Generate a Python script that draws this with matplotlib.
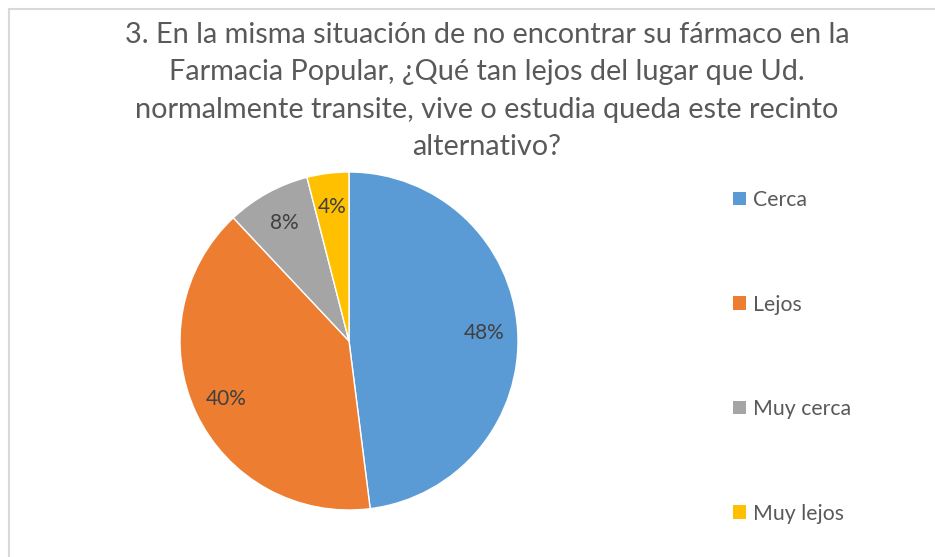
import matplotlib
matplotlib.use("Agg")
import matplotlib.pyplot as plt
from matplotlib.patches import Rectangle, Patch

categories = ["Cerca", "Lejos", "Muy cerca", "Muy lejos"]
values = [48, 40, 8, 4]
colors = ["#5B9BD5", "#ED7D31", "#A5A5A5", "#FFC000"]
title = ("3. En la misma situación de no encontrar su fármaco en la\n"
         "Farmacia Popular, ¿Qué tan lejos del lugar que Ud.\n"
         "normalmente transite, vive o estudia queda este recinto\n"
         "alternativo?")

plt.rcParams['font.family'] = ['Lato', 'DejaVu Sans']
W, H = 935, 557
fig = plt.figure(figsize=(W / 100, H / 100), dpi=100)
fig.patch.set_facecolor("white")

# outer border (left/top visible)
fig.patches.append(Rectangle((9 / W, -0.1), 1.2, (H - 9) / H + 0.1, transform=fig.transFigure,
                             fill=False, edgecolor="#D9D9D9", linewidth=1.5))

cx, cy, r = 349, 341, 169
ax = fig.add_axes([(cx - r) / W, (H - cy - r) / H, 2 * r / W, 2 * r / H])
wedges, texts, autotexts = ax.pie(values, colors=colors, startangle=90, counterclock=False,
                                  autopct=lambda p: f"{p:.0f}%", pctdistance=0.8,
                                  wedgeprops=dict(edgecolor="white", linewidth=1),
                                  textprops=dict(color="#404040", fontsize=15))
ax.set_xlim(-1, 1)
ax.set_ylim(-1, 1)
ax.set_aspect("equal")
ax.axis("off")

fig.text(0.5 * (123 + 851) / W, 1 - 22 / H, title, ha="center", va="top",
         fontsize=20.8, color="#595959", linespacing=1.54)

handles = [Patch(facecolor=c, edgecolor="none") for c in colors]
fig.legend(handles, categories, loc="upper left", bbox_to_anchor=(733 / W, 1 - 190 / H),
           frameon=False, fontsize=15.3, labelcolor="#595959", labelspacing=3.98,
           handlelength=0.6, handleheight=0.6, handletextpad=0.35, borderpad=0, borderaxespad=0)

fig.savefig("out.png", dpi=100)
